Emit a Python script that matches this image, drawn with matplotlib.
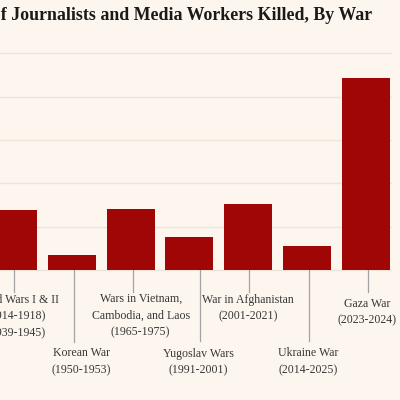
import matplotlib
matplotlib.use("Agg")
import matplotlib.pyplot as plt
import matplotlib.transforms as mtransforms

# ---- data ----
categories = [
    "World Wars I & II\n(1914-1918)\n(1939-1945)",
    "Korean War\n(1950-1953)",
    "Wars in Vietnam,\nCambodia, and Laos\n(1965-1975)",
    "Yugoslav Wars\n(1991-2001)",
    "War in Afghanistan\n(2001-2021)",
    "Ukraine War\n(2014-2025)",
    "Gaza War\n(2023-2024)",
]
values = [69, 17, 70, 38, 76, 28, 222]
title = "Number of Journalists and Media Workers Killed, By War"

# ---- style ----
BG = "#FDF6EE"
BAR = "#A10606"
GRID = "#EDE5DB"
LEAD = "#A3A3A3"
TXT = "#383838"
W = 400.0
# per-label layout (pixels): leader x-offset, text x-offset, leader end y, text top y
line_dx = [1.0, 2.3, 2.5, 10.5, 1.3, 1.7, 2.2]
text_dx = [2.5, 9.6, 10.0, 9.0, 0.0, 1.0, 1.5]
line_end = [291.7, 342.0, 291.7, 341.0, 291.7, 341.0, 291.7]
text_top = [294.0, 347.5, 293.0, 347.5, 294.0, 347.5, 298.0]

fig = plt.figure(figsize=(4, 4), dpi=100, facecolor=BG)
ax_left, ax_right = 0.0, 391 / W
ax_bot, ax_top = 1 - 270 / W, 1 - 53.3 / W
ax = fig.add_axes([ax_left, ax_bot, ax_right - ax_left, ax_top - ax_bot])
ax.set_facecolor(BG)

x = list(range(len(categories)))
ax.bar(x, values, width=0.818, color=BAR, zorder=3)
ax.set_xlim(-0.2266, 6.434)
ax.set_ylim(0, 250)
ax.set_yticks([0, 50, 100, 150, 200, 250])
ax.grid(axis="y", color=GRID, linewidth=1.0, zorder=0)
ax.grid(axis="x", visible=False)
for s in ax.spines.values():
    s.set_visible(False)
ax.tick_params(axis="both", length=0, labelleft=False, labelbottom=False)
for gl in ax.get_ygridlines():
    gl.set_clip_on(False)

px = 58.7  # pixels per category
trans = mtransforms.blended_transform_factory(ax.transData, fig.transFigure)
for i, lab in enumerate(categories):
    lx = i + line_dx[i] / px
    ax.plot([lx, lx], [1 - 270 / W, 1 - line_end[i] / W], transform=trans,
            color=LEAD, linewidth=0.9, clip_on=False, zorder=2)
    ax.text(i + text_dx[i] / px, 1 - text_top[i] / W, lab, transform=trans,
            ha="center", va="top", multialignment="center",
            fontsize=8.6, family="Liberation Serif", color=TXT,
            linespacing=1.5, clip_on=False)

fig.text(372 / W, 1 - 15.5 / W, title, ha="right", va="center",
         fontsize=12.9, fontweight="bold", family="Liberation Serif",
         color="#1A1A1A")

fig.savefig("out.png", dpi=100, facecolor=BG)
